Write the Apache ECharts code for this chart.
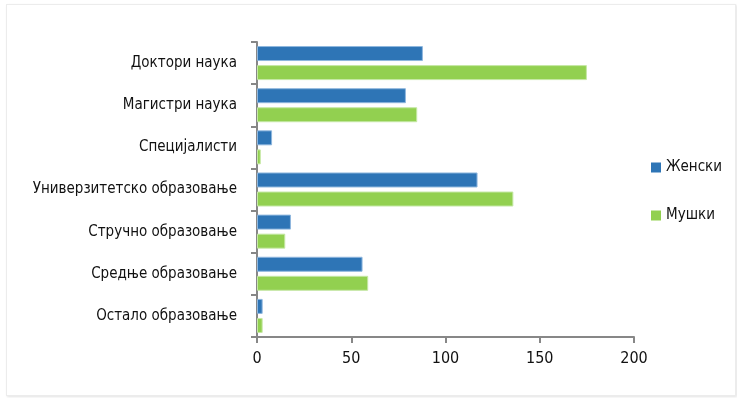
<!DOCTYPE html>
<html>
<head>
<meta charset="utf-8">
<script src="https://cdn.jsdelivr.net/npm/echarts@6/dist/echarts.min.js"></script>
<style>
html,body{margin:0;padding:0;background:#fff;}
#frame{position:absolute;left:6px;top:4px;width:728px;height:390px;border:1px solid #ececec;box-shadow:1px 1px 2px #e4e4e4;}
#chart{position:absolute;left:0;top:0;width:737px;height:398px;}
</style>
</head>
<body>
<div id="frame"></div>
<div id="chart"></div>
<script>
const categories = ["Доктори наука","Магистри наука","Специјалисти","Универзитетско образовање","Стручно образовање","Средње образовање","Остало образовање"];
const seriesNames = ["Женски","Мушки"];
const zenski = [88,79,8,117,18,56,3];
const muski = [175,85,2,136,15,59,3];
const xTicks = [0,50,100,150,200];

const FONT = '"Liberation Sans Narrow","DejaVu Sans Condensed",sans-serif';
const chart = echarts.init(document.getElementById('chart'), null, {renderer:'canvas'});
chart.setOption({
  animation:false,
  textStyle:{fontFamily:FONT},
  grid:{left:257,right:103,top:42,bottom:61,containLabel:false},
  legend:{
    orient:'vertical', left:646, top:155,
    itemWidth:10, itemHeight:10, itemGap:33,
    icon:'rect',
    itemStyle:{borderWidth:0},
    textStyle:{fontFamily:FONT,fontSize:15,color:'#111'},
    data:seriesNames
  },
  xAxis:{
    type:'value', min:xTicks[0], max:xTicks[xTicks.length-1], interval:50,
    axisLine:{show:true,lineStyle:{color:'#878787',width:2}},
    axisTick:{show:true,length:6,lineStyle:{color:'#878787',width:2}},
    axisLabel:{fontFamily:FONT,fontSize:16,color:'#111',margin:14},
    splitLine:{show:false}
  },
  yAxis:{
    type:'category', data:categories, inverse:true,
    axisLine:{show:true,lineStyle:{color:'#878787',width:2}},
    axisTick:{show:true,length:6,lineStyle:{color:'#878787',width:2}},
    axisLabel:{fontFamily:FONT,fontSize:15,color:'#111',margin:20}
  },
  series:[
    {name:seriesNames[0],type:'bar',data:zenski,barWidth:15,barGap:'27%',
     itemStyle:{color:'#2E75B6',borderColor:'#8fb7de',borderWidth:1}},
    {name:seriesNames[1],type:'bar',data:muski,barWidth:15,barGap:'27%',
     itemStyle:{color:'#92D050',borderColor:'#c6e8a6',borderWidth:1}}
  ]
});
</script>
</body>
</html>
